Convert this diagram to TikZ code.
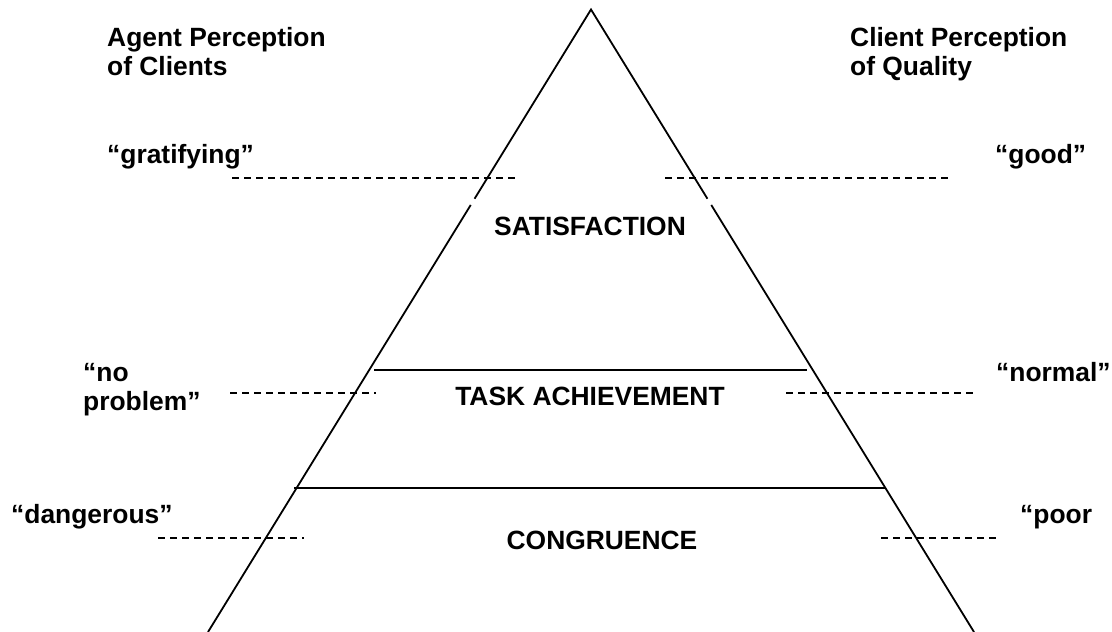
\documentclass[tikz,border=0pt]{standalone}
\usepackage{fontspec}
\setmainfont{Liberation Sans}
\usepackage{tikz}
\usetikzlibrary{calc}

\begin{document}
\begin{tikzpicture}[x=1pt,y=-1pt,
  lbl/.style={inner sep=0pt, align=left, font=\fontsize{26.4}{29}\selectfont\bfseries},
  side/.style={line width=1.8pt},
  divider/.style={line width=2.4pt},
  guide/.style={line width=2pt, dash pattern=on 7pt off 5pt}]
\useasboundingbox (0,0) rectangle (1112,632);
\coordinate (apex) at (591,9.5);
\coordinate (bl) at (208,632);
\coordinate (br) at (974,632);
\coordinate (t1) at (374,370);
\coordinate (t2) at (807,370);
\coordinate (c1) at (294,488);
\coordinate (c2) at (886,488);
\begin{scope}
% draws pyramid
\draw[side] ($(apex)!0.304!(bl)$) -- (apex) -- ($(apex)!0.304!(br)$);
\draw[side] ($(apex)!0.314!(bl)$) -- (bl);
\draw[side] ($(apex)!0.314!(br)$) -- (br);
\draw[divider] (t1) -- (t2);
\draw[divider] (c1) -- (c2);
% draws dashed guides
\coordinate (g1) at (232,178);
\coordinate (g2) at (518,178);
\coordinate (g3) at (665,178);
\coordinate (g4) at (952,178);
\coordinate (n1) at (230,393);
\coordinate (n2) at (376,393);
\coordinate (n3) at (786,393);
\coordinate (n4) at (977,393);
\coordinate (d1) at (158,538);
\coordinate (d2) at (304,538);
\coordinate (d3) at (881,538);
\coordinate (d4) at (1000,538);
\draw[guide] (g1) -- (g2);
\draw[guide] (g3) -- (g4);
\draw[guide] (n1) -- (n2);
\draw[guide] (n3) -- (n4);
\draw[guide] (d1) -- (d2);
\draw[guide] (d3) -- (d4);
% labels levels
\node[lbl, anchor=base] (sat) at (590,235) {SATISFACTION};
\node[lbl, anchor=base] (task) at (590,405) {TASK ACHIEVEMENT};
\node[lbl, anchor=base] (cong) at (602,549) {CONGRUENCE};
% labels perceptions (base = last line)
\node[lbl, anchor=base west] (agent) at (107,75) {Agent Perception\\of Clients};
\node[lbl, anchor=base west] (client) at (850,75) {Client Perception\\of Quality};
\node[lbl, anchor=base west] (grat) at (107,163) {“gratifying”};
\node[lbl, anchor=base west] (good) at (995,163) {“good”};
\node[lbl, anchor=base west] (noprob) at (83,410) {“no\\problem”};
\node[lbl, anchor=base west] (normal) at (996,381) {“normal”};
\node[lbl, anchor=base west] (danger) at (11,523) {“dangerous”};
\node[lbl, anchor=base west] (poor) at (1020,523) {“poor};
\end{scope}
\end{tikzpicture}
\end{document}
